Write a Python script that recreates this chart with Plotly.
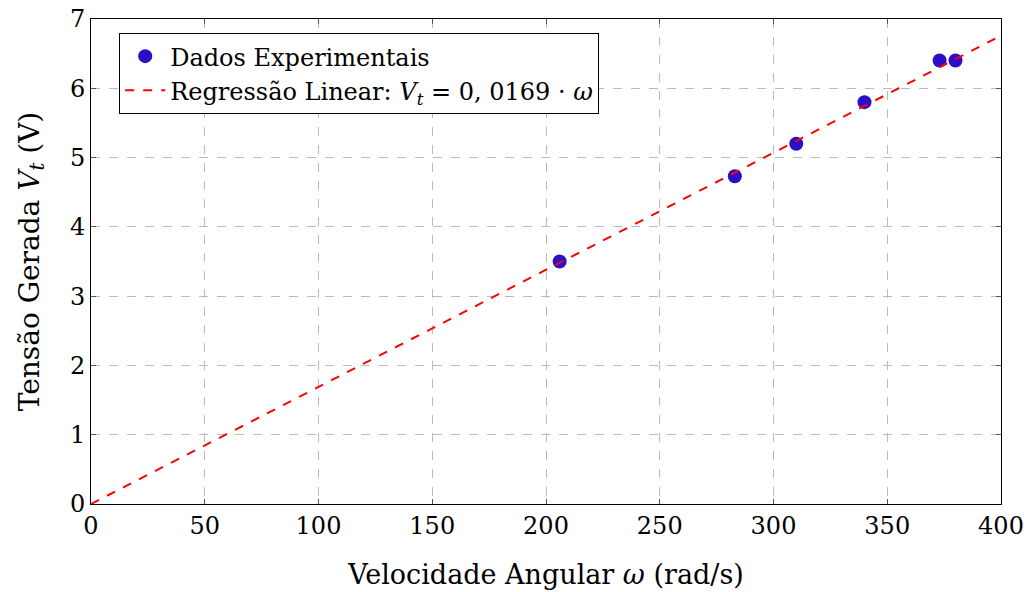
import plotly.graph_objects as go

omega = [206, 283, 310, 340, 373, 380]
vt = [3.5, 4.73, 5.2, 5.8, 6.4, 6.4]
slope = 0.0169
fit_x = [0, 400]
fit_y = [slope * v for v in fit_x]

x_ticks = [0, 50, 100, 150, 200, 250, 300, 350, 400]
y_ticks = [0, 1, 2, 3, 4, 5, 6, 7]

font_family = "DejaVu Serif, Liberation Serif, serif"

fig = go.Figure()
fig.add_trace(go.Scatter(
    x=omega, y=vt, mode="markers", name="Dados Experimentais",
    marker=dict(color="#2a0ec8", size=14, line=dict(width=0)),
))
fig.add_trace(go.Scatter(
    x=fit_x, y=fit_y, mode="lines",
    name="Regressão Linear: <i>V<sub>t</sub></i> = 0, 0169 · <i>ω</i>",
    line=dict(color="red", width=2, dash="dash"),
))

axis_common = dict(
    showline=True, linecolor="black", linewidth=1, mirror="ticks",
    ticks="inside", ticklen=5, tickcolor="#555",
    showgrid=True, gridcolor="#bbbbbb", griddash="dash", gridwidth=1,
    zeroline=False, ticklabeloverflow="allow", automargin=False,
    tickfont=dict(size=24, color="black", family=font_family),
)

fig.update_layout(
    width=1028, height=592,
    margin=dict(l=91, r=27, t=19, b=88),
    paper_bgcolor="white", plot_bgcolor="white",
    font=dict(family=font_family, size=24, color="black"),
    xaxis=dict(range=[0, 400], tickvals=x_ticks,
               title=dict(text="Velocidade Angular <i>ω</i> (rad/s)", standoff=26,
                          font=dict(size=27)),
               **axis_common),
    yaxis=dict(range=[0, 7], tickvals=y_ticks,
               title=dict(text="Tensão Gerada <i>V<sub>t</sub></i> (V)", standoff=22,
                          font=dict(size=28)),
               **axis_common),
    legend=dict(x=0.031, y=0.971, xanchor="left", yanchor="top",
                bgcolor="white", bordercolor="black", borderwidth=1,
                font=dict(size=24), tracegroupgap=0, itemwidth=40),
    showlegend=True,
)

fig.write_html(
    "out.html",
    config={"displayModeBar": False},
    post_script="document.body.style.margin='0';document.body.style.overflow='hidden';",
)
